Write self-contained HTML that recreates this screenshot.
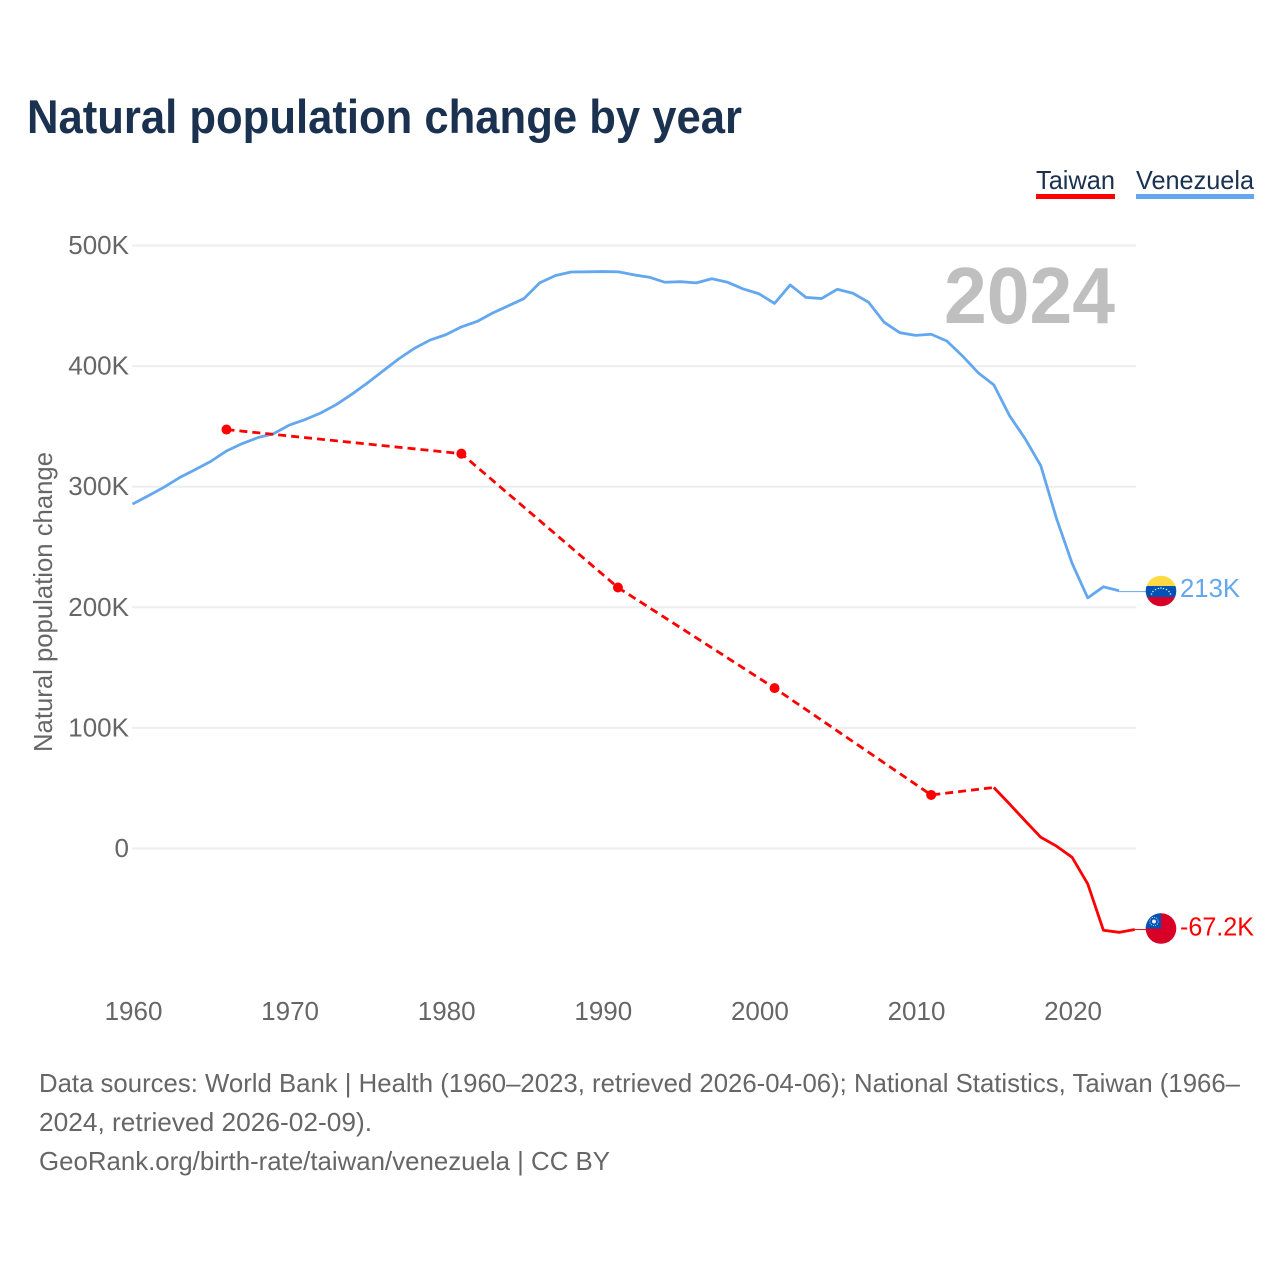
<!DOCTYPE html>
<html lang="en">
<head>
<meta charset="utf-8">
<title>Natural population change by year</title>
<style>
html,body{margin:0;padding:0;background:#fff;}
svg{display:block;font-family:"Liberation Sans",sans-serif;}
</style>
</head>
<body>
<svg id="chart" xmlns="http://www.w3.org/2000/svg" width="1280" height="1280" viewBox="0 0 1280 1280">
  <defs>
    <clipPath id="flag-clip-ve"><circle cx="1161" cy="591" r="15.3"/></clipPath>
    <clipPath id="flag-clip-tw"><circle cx="1161" cy="928.5" r="15.3"/></clipPath>
  </defs>
  <rect x="0" y="0" width="1280" height="1280" fill="#ffffff"/>
  <text x="27" y="133" font-size="47" font-weight="700" fill="#1a3150" textLength="715" lengthAdjust="spacingAndGlyphs">Natural population change by year</text>

  <g>
    <g>
      <text x="1036" y="189" font-size="26" fill="#1a3150" textLength="79" lengthAdjust="spacingAndGlyphs">Taiwan</text>
      <rect x="1036" y="194" width="79" height="5" fill="#ff0000"/>
    </g>
    <g>
      <text x="1136" y="189" font-size="26" fill="#1a3150" textLength="118" lengthAdjust="spacingAndGlyphs">Venezuela</text>
      <rect x="1136" y="194" width="118" height="5" fill="#63a7ee"/>
    </g>
  </g>

  <g id="grid"></g>
  <g id="y-ticks"></g>
  <g id="x-ticks"></g>
  <text transform="translate(52,752) rotate(-90)" x="0" y="0" font-size="26" fill="#666666" textLength="300" lengthAdjust="spacingAndGlyphs">Natural population change</text>
  <text x="944" y="323" font-size="80" font-weight="700" fill="#bfbfbf" textLength="171" lengthAdjust="spacingAndGlyphs">2024</text>

  <g id="series"></g>

  <g clip-path="url(#flag-clip-ve)">
    <rect x="1145" y="575" width="32" height="11" fill="#ffda44"/>
    <rect x="1145" y="586" width="32" height="11" fill="#0052b4"/>
    <rect x="1145" y="597" width="32" height="11" fill="#d80027"/>
    <g fill="#ffffff" opacity="0.85">
      <circle cx="1151.5" cy="594" r="0.8"/><circle cx="1153" cy="591.5" r="0.8"/><circle cx="1155.5" cy="589.5" r="0.8"/>
      <circle cx="1158.5" cy="588.5" r="0.8"/><circle cx="1161" cy="588" r="0.8"/><circle cx="1163.5" cy="588.5" r="0.8"/>
      <circle cx="1166.5" cy="589.5" r="0.8"/><circle cx="1169" cy="591.5" r="0.8"/><circle cx="1170.5" cy="594" r="0.8"/>
    </g>
  </g>
  <g clip-path="url(#flag-clip-tw)">
    <rect x="1145" y="912" width="32" height="33" fill="#d80027"/>
    <rect x="1145" y="912" width="16" height="16.5" fill="#0052b4"/>
    <circle cx="1154" cy="921.5" r="4.2" fill="none" stroke="#ffffff" stroke-width="0.9" stroke-dasharray="1 1.2" opacity="0.85"/>
    <circle cx="1154" cy="921.5" r="2" fill="#ffffff" opacity="0.9"/>
  </g>
  <text x="1180" y="597" font-size="26" fill="#63a7ee" textLength="60" lengthAdjust="spacingAndGlyphs">213K</text>
  <text x="1180" y="935.5" font-size="26" fill="#ff0000" textLength="74" lengthAdjust="spacingAndGlyphs">-67.2K</text>

  <g font-size="26" fill="#666666">
    <text x="39" y="1092" textLength="1201" lengthAdjust="spacingAndGlyphs">Data sources: World Bank | Health (1960–2023, retrieved 2026-04-06); National Statistics, Taiwan (1966–</text>
    <text x="39" y="1131" textLength="333" lengthAdjust="spacingAndGlyphs">2024, retrieved 2026-02-09).</text>
    <text x="39" y="1170" textLength="571" lengthAdjust="spacingAndGlyphs">GeoRank.org/birth-rate/taiwan/venezuela | CC BY</text>
  </g>
</svg>

<script>
const yTickValues = [0, 100, 200, 300, 400, 500];
const yTickLabels = ["0", "100K", "200K", "300K", "400K", "500K"];
const xTickYears = [1960, 1970, 1980, 1990, 2000, 2010, 2020];
const xTickLabels = ["1960", "1970", "1980", "1990", "2000", "2010", "2020"];

const venezuelaYears = [1960,1961,1962,1963,1964,1965,1966,1967,1968,1969,1970,1971,1972,1973,1974,1975,1976,1977,1978,1979,1980,1981,1982,1983,1984,1985,1986,1987,1988,1989,1990,1991,1992,1993,1994,1995,1996,1997,1998,1999,2000,2001,2002,2003,2004,2005,2006,2007,2008,2009,2010,2011,2012,2013,2014,2015,2016,2017,2018,2019,2020,2021,2022,2023];
const venezuelaValues = [285.6,292.4,299.5,307.5,314.2,321,329.6,335.7,340.7,343.9,351,355.6,361,368,376.6,386,396,406,414.7,421.6,426,432.5,437,444,450,456,469,475,478,478.2,478.4,478.2,475.7,473.7,469.5,470,469,472.4,469.5,464,460,452,467.3,457,456,463.7,460.4,453,436.3,427.7,425.5,426.4,420.8,408.4,394.5,384.4,359,339.8,317.4,273.8,236.5,207.8,217,213.7];
const venezuelaLatest = 213;

const taiwanSparseYears = [1966,1981,1991,2001,2011,2015];
const taiwanSparseValues = [347.4,327.4,216.4,133,44.4,50.6];
const taiwanMarkerYears = [1966,1981,1991,2001,2011];
const taiwanMarkerValues = [347.4,327.4,216.4,133,44.4];
const taiwanAnnualYears = [2015,2016,2017,2018,2019,2020,2021,2022,2023,2024];
const taiwanAnnualValues = [50.6,37,23,9.3,2,-7.3,-29.4,-67.8,-69.5,-67.2];
const taiwanLatest = -67.2;

function xScale(year) { return 132.5 + (year - 1960) * 15.66; }
function yScale(value) { return 848.5 - value * 1.206; }
function svgEl(tag) { return document.createElementNS("http://www.w3.org/2000/svg", tag); }
function linePath(xs, ys) {
  return xs.map(function (x, i) { return (i ? "L" : "M") + xScale(x).toFixed(2) + " " + yScale(ys[i]).toFixed(2); }).join(" ");
}

const gridLayer = document.getElementById("grid");
const yTickLayer = document.getElementById("y-ticks");
const xTickLayer = document.getElementById("x-ticks");
const seriesLayer = document.getElementById("series");

yTickValues.forEach(function (v, i) {
  const line = svgEl("line");
  
  
  line.setAttribute("x1", 132);
  line.setAttribute("x2", 1136);
  line.setAttribute("y1", yScale(v));
  line.setAttribute("y2", yScale(v));
  line.setAttribute("stroke", "#eeeeee");
  line.setAttribute("stroke-width", 2);
  gridLayer.appendChild(line);

  const label = svgEl("text");
  
  
  label.setAttribute("x", 129);
  label.setAttribute("y", yScale(v) + 8.5);
  label.setAttribute("text-anchor", "end");
  label.setAttribute("font-size", 26);
  label.setAttribute("fill", "#666666");
  label.textContent = yTickLabels[i];
  yTickLayer.appendChild(label);
});

xTickYears.forEach(function (y, i) {
  const label = svgEl("text");
  
  
  label.setAttribute("x", xScale(y) + 1);
  label.setAttribute("y", 1020);
  label.setAttribute("text-anchor", "middle");
  label.setAttribute("font-size", 26);
  label.setAttribute("fill", "#666666");
  label.textContent = xTickLabels[i];
  xTickLayer.appendChild(label);
});

const leaderVe = svgEl("line");


leaderVe.setAttribute("x1", xScale(2023));
leaderVe.setAttribute("x2", 1146);
leaderVe.setAttribute("y1", yScale(venezuelaLatest));
leaderVe.setAttribute("y2", yScale(venezuelaLatest));
leaderVe.setAttribute("stroke", "#63a7ee");
leaderVe.setAttribute("stroke-width", 1);
seriesLayer.appendChild(leaderVe);

const leaderTw = svgEl("line");


leaderTw.setAttribute("x1", xScale(2024));
leaderTw.setAttribute("x2", 1146);
leaderTw.setAttribute("y1", yScale(taiwanLatest));
leaderTw.setAttribute("y2", yScale(taiwanLatest));
leaderTw.setAttribute("stroke", "#ff0000");
leaderTw.setAttribute("stroke-width", 1);
seriesLayer.appendChild(leaderTw);

const veLine = svgEl("path");


veLine.setAttribute("d", linePath(venezuelaYears, venezuelaValues));
veLine.setAttribute("fill", "none");
veLine.setAttribute("stroke", "#63a7ee");
veLine.setAttribute("stroke-width", 2.8);
veLine.setAttribute("stroke-linejoin", "round");
seriesLayer.appendChild(veLine);

const twDashed = svgEl("path");


twDashed.setAttribute("d", linePath(taiwanSparseYears, taiwanSparseValues));
twDashed.setAttribute("fill", "none");
twDashed.setAttribute("stroke", "#ff0000");
twDashed.setAttribute("stroke-width", 2.8);
twDashed.setAttribute("stroke-dasharray", "8 5");
seriesLayer.appendChild(twDashed);

const twSolid = svgEl("path");


twSolid.setAttribute("d", linePath(taiwanAnnualYears, taiwanAnnualValues));
twSolid.setAttribute("fill", "none");
twSolid.setAttribute("stroke", "#ff0000");
twSolid.setAttribute("stroke-width", 2.8);
twSolid.setAttribute("stroke-linejoin", "round");
seriesLayer.appendChild(twSolid);

taiwanMarkerYears.forEach(function (y, i) {
  const dot = svgEl("circle");
  
  
  dot.setAttribute("cx", xScale(y));
  dot.setAttribute("cy", yScale(taiwanMarkerValues[i]));
  dot.setAttribute("r", 5);
  dot.setAttribute("fill", "#ff0000");
  seriesLayer.appendChild(dot);
});
</script>
</body>
</html>
